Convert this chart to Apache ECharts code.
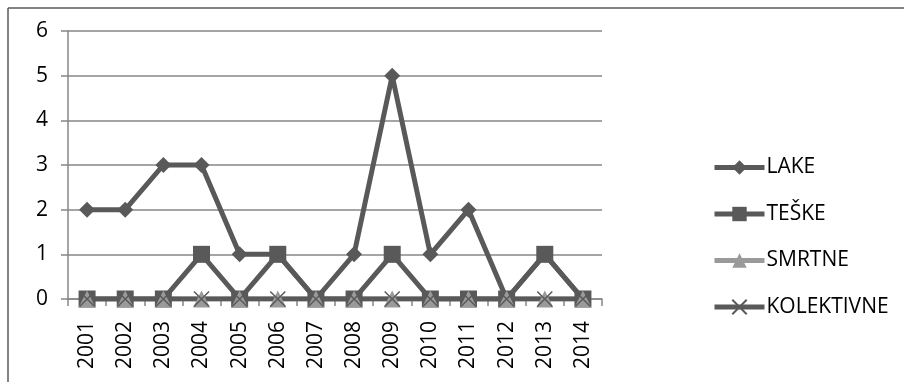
<!DOCTYPE html>
<html><head><meta charset="utf-8">
<script src="https://cdn.jsdelivr.net/npm/echarts@6/dist/echarts.min.js"></script>
<style>html,body{margin:0;padding:0;background:#fff}#c{width:904px;height:382px}</style>
</head><body><div id="c"></div>
<script>
const years = ['2001','2002','2003','2004','2005','2006','2007','2008','2009','2010','2011','2012','2013','2014'];
const lake = [2,2,3,3,1,1,0,1,5,1,2,0,1,0];
const teske = [0,0,0,1,0,1,0,0,1,0,0,0,1,0];
const smrtne = [0,0,0,0,0,0,0,0,0,0,0,0,0,0];
const kolektivne = [0,0,0,0,0,0,0,0,0,0,0,0,0,0];
const yTicks = [0,1,2,3,4,5,6];

const dark = '#595959', light = '#9a9a9a', grid = '#878787';
const font = '"Open Sans", sans-serif';
const xSym = 'path://M0,0 L10,10 M10,0 L0,10';

const chart = echarts.init(document.getElementById('c'));
chart.setOption({
  animation: false,
  backgroundColor: '#fff',
  graphic: [
    {type:'line', shape:{x1:8,y1:8,x2:904,y2:8}, style:{stroke:'#5a5a5a', lineWidth:1.5}},
    {type:'line', shape:{x1:8,y1:8,x2:8,y2:382}, style:{stroke:'#5a5a5a', lineWidth:1.5}}
  ],
  grid: {left:68, right:302, top:31, bottom:83, containLabel:false},
  xAxis: {
    type:'category', data: years, boundaryGap:true,
    axisLine:{lineStyle:{color:grid, width:1.5}},
    axisTick:{show:true, inside:false, length:7, alignWithLabel:false, lineStyle:{color:grid, width:1.5}},
    axisLabel:{rotate:90, margin:22, color:'#000', fontFamily:font, fontSize:21},
    splitLine:{show:false}
  },
  yAxis: {
    type:'value', min:yTicks[0], max:yTicks[yTicks.length-1], interval:1,
    axisLine:{show:true, lineStyle:{color:grid, width:1.5}},
    axisTick:{show:true, length:7, lineStyle:{color:grid, width:1.5}},
    axisLabel:{margin:20, color:'#000', fontFamily:font, fontSize:21},
    splitLine:{show:true, lineStyle:{color:grid, width:1.5}}
  },
  legend: {
    orient:'vertical', left:707, top:152, itemWidth:50, itemHeight:18, itemGap:25.5,
    lineStyle:{width:5},
    textStyle:{color:'#000', fontFamily:font, fontSize:21, padding:[0,0,0,-3]},
    data:['LAKE','TEŠKE','SMRTNE','KOLEKTIVNE']
  },
  series: [
    {name:'LAKE', type:'line', data:lake, symbol:'diamond', symbolSize:16,
     lineStyle:{color:dark, width:5}, itemStyle:{color:dark}},
    {name:'TEŠKE', type:'line', data:teske, symbol:'rect', symbolSize:17,
     lineStyle:{color:dark, width:5}, itemStyle:{color:dark}},
    {name:'SMRTNE', type:'line', data:smrtne, symbol:'triangle', symbolSize:17,
     lineStyle:{color:light, width:5}, itemStyle:{color:light}},
    {name:'KOLEKTIVNE', type:'line', data:kolektivne, symbol:xSym, symbolSize:15,
     lineStyle:{color:dark, width:5}, itemStyle:{color:'none', borderColor:dark, borderWidth:1.5}}
  ]
});
</script></body></html>
